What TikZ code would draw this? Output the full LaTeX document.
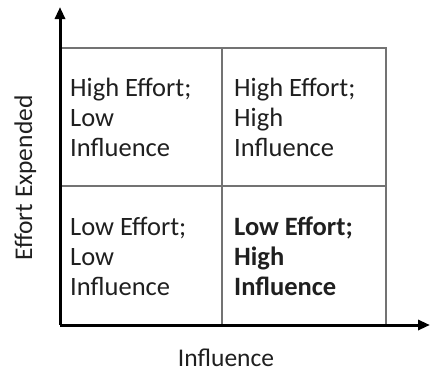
\documentclass[tikz,border=0pt]{standalone}
\usepackage{fontspec}
\setmainfont{Carlito}
\usetikzlibrary{arrows.meta}
\begin{document}
\begin{tikzpicture}[x=1pt,y=-1pt,
  gridline/.style={draw=black!55,line width=1.4pt},
  axisline/.style={draw=black,line width=3pt,-{Triangle[length=12pt,width=10pt]}},
  celltext/.style={anchor=north west,inner sep=0pt,align=left,text=black!88,font=\fontsize{26.5}{30}\selectfont},
  axislabel/.style={inner sep=0pt,text=black!88,font=\fontsize{25.5}{30}\selectfont}]
\useasboundingbox (0,0) rectangle (430,372);
\coordinate (O) at (60,325);
\coordinate (TL) at (60,48);
\coordinate (TR) at (386,48);
\coordinate (BR) at (386,325);
\coordinate (ML) at (60,186);
\coordinate (MR) at (386,186);
\coordinate (MT) at (222,48);
\coordinate (MB) at (222,325);
\coordinate (YT) at (60,7);
\coordinate (XR) at (430,325);
\draw[gridline] (TL) -- (TR) -- (BR);
\draw[gridline] (ML) -- (MR);
\draw[gridline] (MT) -- (MB);
\draw[axisline] (O) -- (YT);
\draw[axisline] (O) -- (XR);
\node[celltext] (hl) at (70,77.5) {High Effort;\\Low\\Influence};
\node[celltext] (hh) at (234,77.5) {High Effort;\\High\\Influence};
\node[celltext] (ll) at (70,216.5) {Low Effort;\\Low\\Influence};
\node[celltext,font=\fontsize{26.5}{30}\selectfont\bfseries] (lh) at (234,216.5) {Low Effort;\\High\\Influence};
\node[axislabel,anchor=base] (xl) at (226,366) {Influence};
\node[axislabel,anchor=base,rotate=90] (yl) at (32,178) {Effort Expended};
\end{tikzpicture}
\end{document}
